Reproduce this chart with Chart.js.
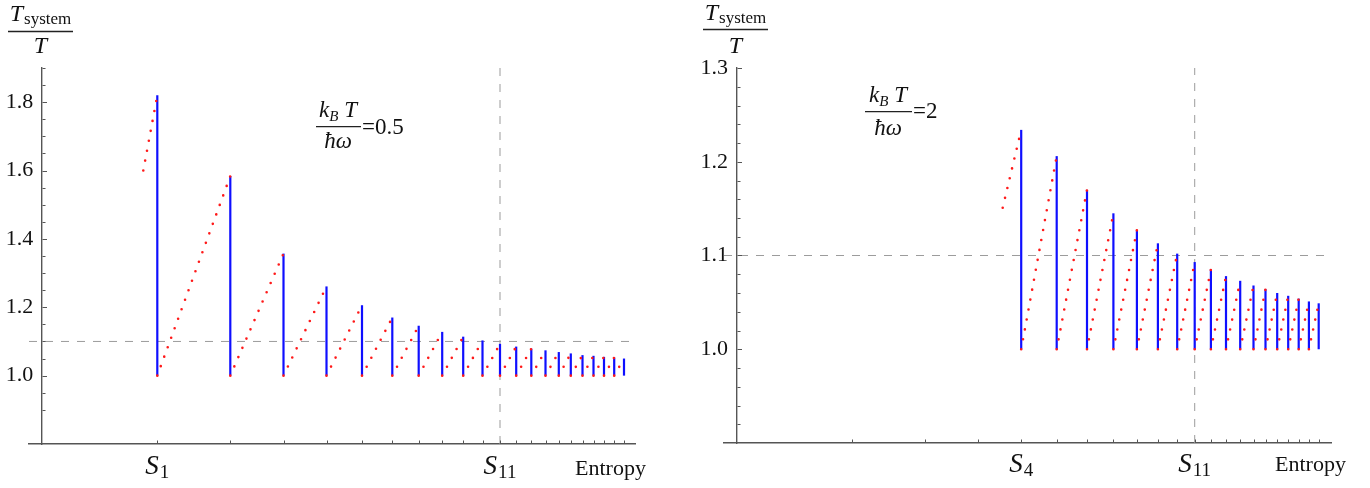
<!DOCTYPE html>
<html><head><meta charset="utf-8">
<script src="https://cdn.jsdelivr.net/npm/chart.js@4.4.1/dist/chart.umd.min.js"></script>
<style>
html,body{margin:0;padding:0;background:#fff;}
#wrap{display:flex;width:1370px;height:488px;}
canvas{display:block;}
</style></head>
<body><div id="wrap"><canvas id="c1" width="685" height="488"></canvas><canvas id="c2" width="685" height="488"></canvas></div>
<script>
// ---- data (entropy in arbitrary units, ratio T_system/T) ----
const entropyS = [1.153,1.883,2.415,2.845,3.200,3.503,3.767,4.002,4.212,4.405,4.580,4.742,4.893,5.035,5.168,5.288,5.405,5.515,5.620,5.722,5.820]; // S1..S21
const peaksLeft  = [1.820,1.584,1.357,1.261,1.206,1.170,1.146,1.128,1.114,1.103,1.093,1.085,1.079,1.074,1.069,1.065,1.060,1.058,1.055,1.053,1.050]; // S1..S21, kT/hw=0.5
const peaksRight = [1.234,1.206,1.170,1.145,1.127,1.113,1.102,1.093,1.085,1.078,1.073,1.068,1.064,1.060,1.057,1.054,1.051,1.049]; // S4..S21, kT/hw=2
const leadInLeft  = {x:1.013, y:1.600};
const leadInRight = {x:2.660, y:1.151};
const floorRatio = 1.0;
const refRatio = 1.1;
const markedIndex = 10;               // S11
const yTickLabelsLeft  = [1.0,1.2,1.4,1.6,1.8];
const yTickLabelsRight = [1.0,1.1,1.2,1.3];
const xLabelIdxLeft  = [0,10];        // S1, S11
const xLabelIdxRight = [3,10];        // S4, S11

const SERIF = '"Liberation Serif","Times New Roman",Times,serif';
const AXIS = '#555555';
const INK = '#111';

function redDs(data){return {data, showLine:true, borderColor:'rgb(255,25,25)', borderWidth:2.6, borderDash:[0,10.1], borderCapStyle:'round', pointRadius:0, fill:false, tension:0, order:1};}
function blueDs(data){return {data, showLine:true, borderColor:'rgb(15,15,255)', borderWidth:2.2, pointRadius:0, fill:false, tension:0, order:2};}
function dashDs(data){return {data, showLine:true, borderColor:'#9c9c9c', borderWidth:1, borderDash:[8,8], pointRadius:0, fill:false, tension:0, order:3};}

function runsWidth(ctx, runs){let w=0;for(const r of runs){ctx.font=r.f;w+=ctx.measureText(r.t).width+(r.gap||0);}return w;}
function drawRuns(ctx,x,y,runs){for(const r of runs){ctx.font=r.f;ctx.fillText(r.t,x,y+(r.dy||0));x+=ctx.measureText(r.t).width+(r.gap||0);}}
function fraction(ctx,f){
  ctx.fillStyle=INK;
  const nw=runsWidth(ctx,f.num); drawRuns(ctx,f.cx-nw/2,f.numBase,f.num);
  const dw=runsWidth(ctx,f.den); drawRuns(ctx,f.cx-dw/2,f.denBase,f.den);
  ctx.strokeStyle='#222'; ctx.lineWidth=1.3; ctx.beginPath(); ctx.moveTo(f.bx1,f.barY); ctx.lineTo(f.bx2,f.barY); ctx.stroke();
  if(f.tail){drawRuns(ctx,f.tail.x,f.tail.base,f.tail.runs);}
}

function makeDecor(p){
  return {id:'decor',afterDraw(chart){
    const ctx=chart.ctx, xs=chart.scales.x, ys=chart.scales.y;
    const ax=Math.round(xs.getPixelForValue(0))+0.5, ay=chart.chartArea.bottom;
    ctx.save();
    ctx.strokeStyle=AXIS; ctx.lineWidth=1;
    ys.ticks.forEach(t=>{
      if(t.value<p.yTickFrom-1e-9) return;
      const py=Math.round(ys.getPixelForValue(t.value))+0.5;
      const major=p.yLabels.some(l=>Math.abs(l-t.value)<1e-6);
      ctx.beginPath(); ctx.moveTo(ax,py); ctx.lineTo(ax+(major?4.5:3),py); ctx.stroke();
    });
    entropyS.forEach(s=>{
      const px=Math.round(xs.getPixelForValue(s))+0.5;
      ctx.beginPath(); ctx.moveTo(px,ay); ctx.lineTo(px,ay-3.5); ctx.stroke();
    });
    ctx.textAlign='left'; ctx.textBaseline='alphabetic'; ctx.fillStyle=INK;
    // S labels
    p.xLabelIdx.forEach(i=>{
      const runs=[{t:'S',f:'italic 27px '+SERIF,gap:1},{t:String(i+1),f:'19px '+SERIF,dy:4}];
      const w=runsWidth(ctx,runs);
      drawRuns(ctx,xs.getPixelForValue(entropyS[i])-w/2,p.sBase,runs);
    });
    ctx.font='22px '+SERIF; ctx.fillText('Entropy',p.entX,p.entBase);
    fraction(ctx,p.yTitle);
    fraction(ctx,p.annot);
    ctx.restore();
  }};
}

function makeChart(id,p){
  const S=entropyS, f=p.first, ds=[];
  ds.push(redDs([p.lead,{x:S[f],y:p.peaks[0]}]));
  for(let k=0;k<p.peaks.length-1;k++) ds.push(redDs([{x:S[f+k],y:floorRatio},{x:S[f+k+1],y:p.peaks[k+1]}]));
  for(let k=0;k<p.peaks.length;k++) ds.push(blueDs([{x:S[f+k],y:floorRatio},{x:S[f+k],y:p.peaks[k]}]));
  ds.push(dashDs([{x:p.xMin,y:refRatio},{x:p.xMax,y:refRatio}]));
  ds.push(dashDs([{x:S[markedIndex],y:p.yMin},{x:S[markedIndex],y:p.yMax}]));
  return new Chart(document.getElementById(id),{
    type:'scatter',
    data:{datasets:ds},
    options:{
      responsive:false, animation:false, devicePixelRatio:1,
      layout:{padding:p.pad},
      plugins:{legend:{display:false},tooltip:{enabled:false}},
      scales:{
        x:{type:'linear',min:p.xMin,max:p.xMax,position:'bottom',
           grid:{display:false,drawTicks:false},border:{display:true,color:AXIS,width:1.4},
           ticks:{display:false},afterFit:s=>{s.height=p.xAxisH;}},
        y:{type:'linear',min:p.yMin,max:p.yMax,position:{x:0},
           grid:{display:false,drawTicks:false},border:{display:true,color:AXIS,width:1.4},
           ticks:{stepSize:p.step,autoSkip:false,padding:7,color:INK,font:{family:SERIF,size:22},
             callback:v=>{const l=p.yLabels.find(l=>Math.abs(l-v)<1e-6);return l===undefined?'':l.toFixed(1)+'\u2009\u2009';}}}
      }
    },
    plugins:[makeDecor(p)]
  });
}

const fontI=s=>'italic '+s+'px '+SERIF, fontR=s=>s+'px '+SERIF;

makeChart('c1',{
  first:0, peaks:peaksLeft, lead:leadInLeft,
  xMin:-0.13, xMax:5.93, yMin:0.8, yMax:1.9, step:0.05, yLabels:yTickLabelsLeft, yTickFrom:0.9,
  pad:{left:29,right:50,top:68,bottom:0}, xAxisH:44,
  xLabelIdx:xLabelIdxLeft, sBase:474, entX:575, entBase:475,
  yTitle:{cx:40.5,barY:31.5,bx1:8,bx2:73,numBase:21,denBase:53,
    num:[{t:'T',f:fontI(24),gap:1},{t:'system',f:fontR(17),dy:3}],den:[{t:'T',f:fontI(24)}]},
  annot:{cx:338,barY:126.7,bx1:316,bx2:361,numBase:116.5,denBase:148,
    num:[{t:'k',f:fontI(23)},{t:'B',f:fontI(15),dy:4},{t:' T',f:fontI(23)}],den:[{t:'ħω',f:fontI(23)}],
    tail:{x:362,base:133.5,runs:[{t:'=0.5',f:fontR(23)}]}}
});

makeChart('c2',{
  first:3, peaks:peaksRight, lead:leadInRight,
  xMin:-0.127, xMax:5.943, yMin:0.9, yMax:1.3, step:0.02, yLabels:yTickLabelsRight, yTickFrom:0.92,
  pad:{left:39,right:39,top:68,bottom:0}, xAxisH:45,
  xLabelIdx:xLabelIdxRight, sBase:472, entX:590, entBase:471,
  yTitle:{cx:50.5,barY:29.5,bx1:18,bx2:83,numBase:20,denBase:53,
    num:[{t:'T',f:fontI(24),gap:1},{t:'system',f:fontR(17),dy:3}],den:[{t:'T',f:fontI(24)}]},
  annot:{cx:203,barY:111.7,bx1:180,bx2:227,numBase:101.7,denBase:135,
    num:[{t:'k',f:fontI(23)},{t:'B',f:fontI(15),dy:4},{t:' T',f:fontI(23)}],den:[{t:'ħω',f:fontI(23)}],
    tail:{x:228,base:118.3,runs:[{t:'=2',f:fontR(23)}]}}
});
</script>
</body></html>
